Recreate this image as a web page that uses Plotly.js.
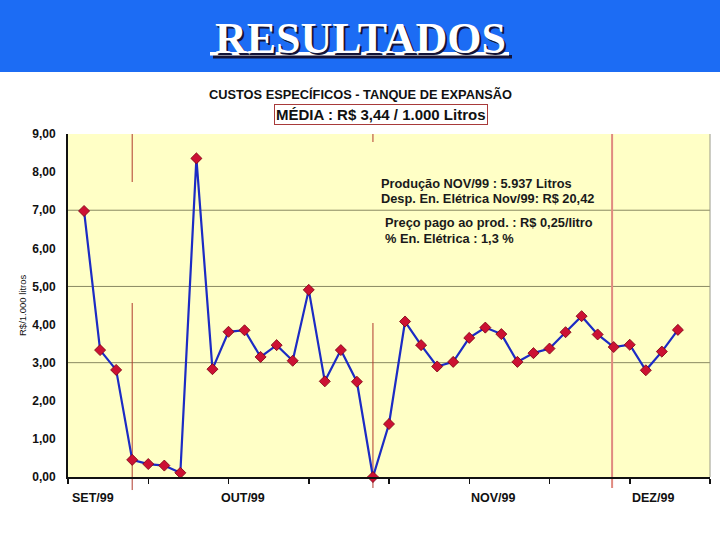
<!DOCTYPE html>
<html>
<head>
<meta charset="utf-8">
<script src="https://cdn.plot.ly/plotly-3.0.1.min.js"></script>
<style>html,body{margin:0;padding:0;background:#fff;}#chart{width:720px;height:540px;}</style>
</head>
<body>
<div id="chart"></div>
<script>
// Data
var points = [1,2,3,4,5,6,7,8,9,10,11,12,13,14,15,16,17,18,19,20,21,22,23,24,25,26,27,28,29,30,31,32,33,34,35,36,37,38];
var costs = [6.98,3.33,2.81,0.45,0.34,0.30,0.11,8.36,2.83,3.81,3.85,3.15,3.46,3.05,4.91,2.51,3.33,2.50,
             0.00,1.39,4.08,3.46,2.90,3.02,3.65,3.92,3.75,3.02,3.25,3.37,3.80,4.22,3.74,3.41,3.47,2.80,3.29,3.86];
var monthLabels = ["SET/99","OUT/99","NOV/99","DEZ/99"];
var monthPos = [0.1, 9.4, 25.0, 35.0];
var xTickVals = [0,5,10,15,20,25,30,35,40];
var yTickVals = [0,1,2,3,4,5,6,7,8,9];
var gridVals = [3,5,7];
var markerLines = [4,19,34];
var notes = ["Produção NOV/99 : 5.937 Litros","Desp. En. Elétrica Nov/99: R$ 20,42","Preço pago ao prod. : R$ 0,25/litro","% En. Elétrica : 1,3 %"];

var bold = {family:"Liberation Sans, Arial, sans-serif", weight:"bold", color:"#111"};
function f(size, extra){var o=Object.assign({}, bold, {size:size}); return Object.assign(o, extra||{});}
function px(xp){return (xp-68)/642;}
function py(yp){return (477-yp)/343;}

var trace = {
  x: points, y: costs, type:"scatter", mode:"lines+markers",
  line:{color:"#1c2bc4", width:2.2},
  marker:{symbol:"diamond", size:8.5, color:"#cc1133", line:{color:"#7a0010", width:0.8}},
  hoverinfo:"skip", cliponaxis:false
};

var shapes = [];
// blue header band
shapes.push({type:"rect", xref:"paper", yref:"paper", x0:-0.3, x1:1.3, y0:py(72), y1:1.6, fillcolor:"#1c6cf4", line:{width:0}, layer:"below"});
// header underline shadow + line
shapes.push({type:"rect", xref:"paper", yref:"paper", x0:px(213), x1:px(512), y0:py(58.5), y1:py(55), fillcolor:"#141438", line:{width:0}});
shapes.push({type:"rect", xref:"paper", yref:"paper", x0:px(210), x1:px(509), y0:py(55.5), y1:py(52), fillcolor:"#ffffff", line:{width:0}});
// gridlines
gridVals.forEach(function(v){
  shapes.push({type:"line", xref:"paper", yref:"y", x0:0, x1:1, y0:v, y1:v, line:{color:"#8a8a62", width:1}, layer:"below"});
});
// right border
shapes.push({type:"line", xref:"paper", yref:"paper", x0:1, x1:1, y0:0, y1:1, line:{color:"#9a9a8a", width:1}});
// vertical red lines
var segs = [
  [markerLines[0], 1.0, py(182), "#b03a2e", 1],
  [markerLines[0], py(303), -0.038, "#b03a2e", 1],
  [markerLines[1], 1.0, py(142), "#b03a2e", 1],
  [markerLines[1], py(323), -0.032, "#b03a2e", 1],
  [markerLines[2]-0.1, 1.0, -0.032, "#e08a80", 2]
];
segs.forEach(function(s){
  shapes.push({type:"line", xref:"x", yref:"paper", x0:s[0], x1:s[0], y0:s[1], y1:s[2], line:{color:s[3], width:s[4]}, layer:"below"});
});

var annotations = [];
annotations.push({text:"RESULTADOS", xref:"paper", yref:"paper", x:px(360.5), y:py(38), xanchor:"center", yanchor:"middle", showarrow:false,
  font:{family:"Liberation Serif, Times New Roman, serif", size:44, weight:"bold", color:"#ffffff", shadow:"2px 2px 0px #141438"}});
annotations.push({text:"CUSTOS ESPECÍFICOS - TANQUE DE EXPANSÃO", xref:"paper", yref:"paper", x:px(360), y:py(95), xanchor:"center", yanchor:"middle", showarrow:false, font:f(12.8)});
annotations.push({text:"MÉDIA : R$ 3,44 / 1.000 Litros", xref:"paper", yref:"paper", x:px(380.5), y:py(114), xanchor:"center", yanchor:"middle", showarrow:false,
  font:f(15), bordercolor:"#a83a3a", borderwidth:1, borderpad:1, bgcolor:"#ffffff"});
annotations.push({text:"R$/1.000 litros", xref:"paper", yref:"paper", x:0, xshift:-46, y:py(305), xanchor:"center", yanchor:"middle", textangle:-90, showarrow:false,
  font:{family:"Liberation Sans, Arial, sans-serif", size:9.5, color:"#111"}});
monthLabels.forEach(function(m,i){
  annotations.push({text:m, xref:"x", yref:"paper", x:monthPos[i], y:0, yshift:-21, xanchor:"left", yanchor:"middle", showarrow:false, font:f(12.5)});
});
var noteX = [379,379,383,383], noteY = [183,198,222,238];
notes.forEach(function(t,i){
  annotations.push({text:t, xref:"paper", yref:"paper", x:px(noteX[i]), y:py(noteY[i]), xanchor:"left", yanchor:"middle", showarrow:false, font:f(12.8, {color:"#1a1a1a"})});
});

var layout = {
  width:720, height:540,
  margin:{l:68, r:10, t:134, b:63},
  paper_bgcolor:"#ffffff", plot_bgcolor:"#ffffc6",
  separators:",.",
  showlegend:false,
  xaxis:{range:[0,40], tickvals:xTickVals, ticktext:xTickVals.map(function(){return "";}), ticks:"outside", ticklen:5, tickcolor:"#111", tickwidth:1.5,
    showgrid:false, zeroline:false, showline:true, linecolor:"#111", linewidth:2, fixedrange:true},
  yaxis:{range:[0,9], tickvals:yTickVals, tickformat:".2f", ticks:"outside", ticklen:8, tickcolor:"rgba(0,0,0,0)",
    showgrid:false, zeroline:false, showline:true, linecolor:"#111", linewidth:2, tickfont:f(12), fixedrange:true},
  shapes:shapes, annotations:annotations
};

Plotly.newPlot("chart", [trace], layout, {staticPlot:true, displayModeBar:false});
</script>
</body>
</html>
